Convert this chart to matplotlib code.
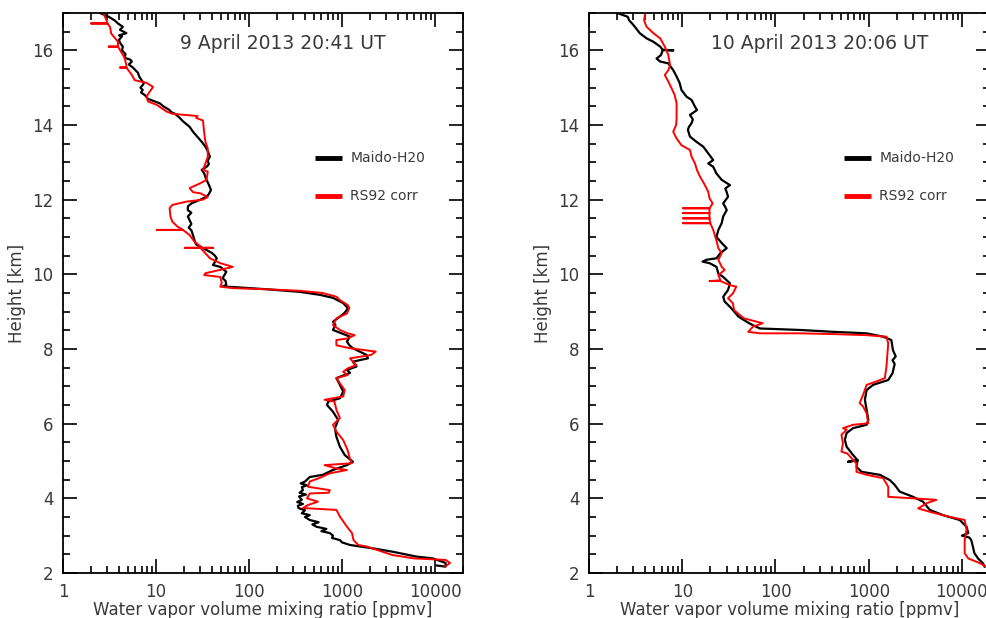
import matplotlib
matplotlib.use("Agg")
import matplotlib.pyplot as plt
from matplotlib.ticker import LogLocator, FixedLocator, MultipleLocator, NullFormatter

# 9 April 2013 20:41 UT
apr9_lidar_km = [17.0, 16.9, 16.8, 16.72, 16.63, 16.55, 16.46, 16.4, 16.37, 16.28, 16.2, 16.1, 16.0,
                 15.9, 15.8, 15.75, 15.7, 15.62, 15.53, 15.45, 15.4, 15.3, 15.2, 15.12, 15.07, 15.0,
                 14.94, 14.87, 14.8, 14.7, 14.64, 14.58, 14.5, 14.4, 14.35, 14.3, 14.19, 14.1, 13.95,
                 13.82, 13.68, 13.55, 13.42, 13.3, 13.15, 13.05, 12.95, 12.88, 12.8, 12.7, 12.6, 12.53,
                 12.4, 12.26, 12.15, 12.08, 12.0, 11.9, 11.82, 11.72, 11.65, 11.55, 11.45, 11.35, 11.25,
                 11.18, 11.05, 10.9, 10.8, 10.74, 10.65, 10.57, 10.5, 10.43, 10.33, 10.25, 10.2, 10.07,
                 10.0, 9.9, 9.82, 9.72, 9.67, 9.66, 9.6, 9.53, 9.45, 9.37, 9.23, 9.1, 9.05, 8.95, 8.87,
                 8.73, 8.65, 8.51, 8.33, 8.2, 8.1, 8.02, 7.84, 7.75, 7.66, 7.53, 7.44, 7.36, 7.22, 7.04,
                 6.86, 6.68, 6.59, 6.5, 6.32, 6.1, 5.88, 5.65, 5.38, 5.16, 4.98, 4.89, 4.76, 4.63, 4.57,
                 4.5, 4.45, 4.4, 4.35, 4.3, 4.22, 4.15, 4.1, 4.05, 3.96, 3.9, 3.85, 3.8, 3.74, 3.68, 3.6,
                 3.55, 3.5, 3.42, 3.36, 3.3, 3.24, 3.18, 3.12, 3.07, 3.0, 2.94, 2.88, 2.82, 2.75, 2.66,
                 2.57, 2.44, 2.39, 2.3, 2.27, 2.17, 2.2]
apr9_lidar_ppmv = [2.5, 3.1, 3.6, 3.9, 4.4, 4.1, 4.8, 4.0, 4.3, 4.0, 4.1, 4.4, 4.3,
                   4.7, 4.6, 5.3, 5.5, 5.1, 5.7, 6.1, 6.4, 6.6, 7.0, 7.4, 7.2, 6.8,
                   7.2, 6.9, 7.6, 8.2, 9.5, 11, 12, 14, 14.5, 16, 18, 19.5, 23,
                   25, 28, 31, 34, 36, 38, 36, 37, 35, 31, 33, 34, 35,
                   37, 39, 37, 35, 30, 24, 22, 22, 24, 22, 23, 24, 22.5,
                   24, 25, 26, 27, 30, 35, 40, 43, 45, 43, 41, 49, 57,
                   55, 52, 56, 57, 52, 67, 155, 353, 580, 800, 1030, 1150, 1130, 1050, 950,
                   800, 850, 800, 1220, 1130, 1200, 1310, 1840, 1900, 1310, 1430, 1130, 1220, 870, 950,
                   1030, 950, 710, 690, 800, 910, 840, 870, 950, 1070, 1310, 1130, 800, 620, 450,
                   420, 400, 360, 420, 370, 380, 350, 410, 345, 370, 330, 380, 335, 340, 400, 370,
                   450, 400, 450, 560, 480, 530, 680, 600, 740, 800, 780, 950, 1000, 1220, 2150,
                   3500, 6300, 9500, 12000, 13000, 13000, 10500]

apr9_rs92_km = [17.0, 16.8, 16.72, 16.72, 16.72, 16.63, 16.45, 16.23, 16.1, 16.1, 16.1, 15.92, 15.8,
                15.6, 15.54, 15.54, 15.54, 15.34, 15.2, 15.13, 15.02, 14.9, 14.76, 14.63, 14.54, 14.36,
                14.3, 14.24, 14.19, 14.12, 13.78, 13.55, 13.37, 13.14, 12.97, 12.8, 12.75, 12.53, 12.44,
                12.31, 12.2, 12.17, 12.07, 12.0, 11.95, 11.86, 11.77, 11.55, 11.41, 11.28, 11.19, 11.19,
                11.19, 11.05, 10.87, 10.75, 10.71, 10.71, 10.71, 10.71, 10.6, 10.43, 10.3, 10.2, 10.12,
                10.03, 9.98, 9.93, 9.77, 9.67, 9.63, 9.6, 9.56, 9.5, 9.4, 9.31, 9.18, 9.1, 8.95, 8.82,
                8.64, 8.51, 8.42, 8.37, 8.28, 8.24, 8.1, 8.02, 7.97, 7.93, 7.84, 7.75, 7.66, 7.57, 7.48,
                7.39, 7.3, 7.22, 7.08, 6.9, 6.73, 6.64, 6.59, 6.37, 6.15, 5.97, 5.79, 5.56, 5.29, 5.11,
                4.94, 4.89, 4.8, 4.76, 4.67, 4.55, 4.45, 4.31, 4.22, 4.15, 4.13, 4.0, 3.91, 3.82, 3.74,
                3.69, 3.51, 3.24, 3.07, 2.88, 2.75, 2.71, 2.48, 2.39, 2.37, 2.35, 2.27, 2.18]
apr9_rs92_ppmv = [2.7, 2.95, 3.0, 2.0, 3.0, 3.2, 3.3, 3.9, 3.9, 3.1, 3.9, 4.3, 4.6,
                  4.8, 4.8, 4.1, 4.8, 5.5, 5.9, 7.9, 9.3, 8.6, 7.9, 8.2, 10.2, 13,
                  15, 28, 27, 32, 33, 34, 36, 36, 34, 32, 36, 35, 30,
                  23, 25, 30, 36, 32, 21.5, 15, 14, 14.3, 15, 17, 19.5, 10.2,
                  19.5, 23, 26, 30, 30, 20.5, 41, 30, 33, 38, 49, 67, 49,
                  34, 33, 49, 51, 49, 67, 155, 350, 620, 870, 950, 1150, 1200, 1130, 870,
                  800, 950, 1150, 1370, 1130, 870, 870, 1220, 1760, 2300, 2050, 1220, 1310, 1430, 1150,
                  1030, 1150, 870, 950, 1070, 1030, 650, 830, 870, 950, 800, 870, 1030, 1150, 1200,
                  1280, 650, 870, 1130, 740, 580, 450, 430, 740, 720, 450, 420, 550, 430, 380,
                  870, 950, 1130, 1280, 1330, 1500, 1840, 3500, 6000, 8800, 13000, 14500, 13000]

# 10 April 2013 20:06 UT
apr10_lidar_km = [17.0, 16.9, 16.8, 16.72, 16.59, 16.46, 16.32, 16.23, 16.1, 16.01, 16.0, 16.01, 15.87,
                  15.78, 15.7, 15.65, 15.47, 15.3, 15.12, 14.94, 14.76, 14.67, 14.49, 14.4, 14.27, 14.15,
                  14.05, 13.95, 13.87, 13.69, 13.55, 13.42, 13.24, 13.06, 12.97, 12.88, 12.7, 12.53, 12.39,
                  12.3, 12.2, 12.08, 11.9, 11.8, 11.72, 11.55, 11.37, 11.19, 11.0, 10.84, 10.7, 10.57,
                  10.43, 10.39, 10.34, 10.3, 10.2, 10.02, 9.93, 9.76, 9.58, 9.4, 9.27, 9.13, 9.04, 8.87,
                  8.73, 8.64, 8.55, 8.51, 8.46, 8.42, 8.33, 8.24, 7.97, 7.8, 7.7, 7.6, 7.35, 7.17, 7.04,
                  6.9, 6.64, 6.37, 6.1, 5.97, 5.88, 5.75, 5.57, 5.38, 5.16, 5.02, 4.98, 5.02, 4.84, 4.71,
                  4.63, 4.49, 4.36, 4.18, 4.04, 3.91, 3.69, 3.55, 3.42, 3.24, 3.07, 3.0, 2.95, 2.88, 2.71,
                  2.53, 2.39, 2.26, 2.17]
apr10_lidar_ppmv = [2.0, 2.6, 2.7, 2.9, 3.2, 3.5, 4.15, 4.9, 5.8, 6.2, 8.0, 6.2, 5.9,
                    5.3, 5.8, 7.1, 8.0, 8.7, 9.4, 9.8, 11.1, 12.6, 13.7, 14.4, 12.1, 13.0,
                    12.6, 11.8, 11.5, 12.1, 14.2, 16.8, 19, 21.5, 19, 21.5, 23.3, 26.5, 32.5,
                    29, 30, 31, 27.5, 29, 30, 27.5, 26.5, 24.4, 23.3, 26.5, 30, 25.7,
                    23.3, 18.2, 16.5, 19.6, 23.3, 24.4, 27.5, 32.5, 31, 27.5, 28.5, 32.5, 35, 40,
                    49, 57, 68, 182, 414, 946, 1430, 1750, 1820, 1950, 1800, 1900, 1800, 1620, 1115,
                    950, 910, 950, 990, 950, 680, 580, 555, 580, 680, 760, 600, 760, 740, 840,
                    1315, 1680, 1900, 2150, 2990, 3830, 4520, 6270, 9460, 11200, 11700, 10000, 12000, 12600, 13100,
                    13600, 14900, 16800, 17500]

apr10_rs92_km = [17.0, 16.8, 16.63, 16.46, 16.32, 16.1, 15.87, 15.6, 15.47, 15.34, 15.16, 14.98, 14.8,
                 14.58, 14.19, 14.0, 13.82, 13.64, 13.46, 13.33, 13.15, 12.97, 12.79, 12.62, 12.39, 12.21,
                 12.04, 11.9, 11.77, 11.77, 11.77, 11.64, 11.64, 11.64, 11.5, 11.5, 11.5, 11.37, 11.37,
                 11.37, 11.19, 10.9, 10.7, 10.57, 10.39, 10.2, 10.12, 9.98, 9.84, 9.82, 9.82, 9.71, 9.67,
                 9.49, 9.36, 9.22, 9.04, 8.91, 8.82, 8.69, 8.6, 8.46, 8.42, 8.42, 8.4, 8.37, 8.33, 8.15,
                 7.53, 7.22, 7.13, 7.04, 6.77, 6.55, 6.46, 6.28, 6.01, 5.97, 5.88, 5.84, 5.7, 5.48, 5.25,
                 5.2, 4.93, 4.71, 4.63, 4.54, 4.31, 4.04, 4.0, 3.96, 3.87, 3.73, 3.64, 3.51, 3.42, 3.16,
                 2.88, 2.53, 2.39, 2.26, 2.19]
apr10_rs92_ppmv = [4.0, 3.9, 4.15, 4.9, 5.8, 6.5, 7.1, 7.4, 7.1, 6.5, 7.1, 7.7, 8.3,
                   8.7, 8.7, 8.6, 8.0, 8.7, 9.8, 12.1, 12.6, 13.7, 14.4, 15.5, 17.5, 19,
                   19.6, 21.2, 19.6, 10.2, 19.6, 19.6, 10.2, 19.6, 19.6, 10.2, 19.6, 20, 10.2,
                   20, 21.5, 23.3, 24.4, 26.5, 24.4, 26.5, 28.5, 24.4, 25.7, 19.6, 25.7, 32.5, 38,
                   35, 31, 35, 36, 41.5, 46, 73, 57.5, 51, 68, 182, 414, 946, 1550, 1620,
                   1550, 1490, 1210, 950, 870, 800, 870, 950, 990, 680, 530, 580, 510, 530, 510,
                   590, 740, 740, 950, 1430, 1620, 1620, 2990, 5330, 4200, 3390, 4520, 7200, 10700, 11200,
                   10700, 10700, 11700, 15700, 17500]

panels = [
    ("9 April 2013 20:41 UT", apr9_lidar_ppmv, apr9_lidar_km, apr9_rs92_ppmv, apr9_rs92_km),
    ("10 April 2013 20:06 UT", apr10_lidar_ppmv, apr10_lidar_km, apr10_rs92_ppmv, apr10_rs92_km),
]
series_names = ["Maido-H20", "RS92 corr"]
x_ticks = [1, 10, 100, 1000, 10000]
x_ticklabels = ["1", "10", "100", "1000", "10000"]
y_ticks = [2, 4, 6, 8, 10, 12, 14, 16]

txt = "#3a3a3a"

fig = plt.figure(figsize=(9.87, 6.18), dpi=100)
rects = [[63 / 987, 45 / 618, 400 / 987, 560 / 618],
         [589 / 987, 45 / 618, 401 / 987, 560 / 618]]
title_x = [0.55, 0.575]
leg_x = [0.63, 0.636]

for i, (title, bx, by, rx, ry) in enumerate(panels):
    ax = fig.add_axes(rects[i])
    ax.plot(bx, by, color="black", lw=1.6)
    ax.plot(rx, ry, color="red", lw=1.4)
    ax.set_xscale("log")
    ax.set_xlim(1, 20000)
    ax.set_ylim(2, 17)

    ax.xaxis.set_major_locator(FixedLocator(x_ticks))
    ax.set_xticklabels(x_ticklabels)
    ax.xaxis.set_minor_locator(LogLocator(base=10, subs=range(2, 10), numticks=20))
    ax.xaxis.set_minor_formatter(NullFormatter())
    ax.yaxis.set_major_locator(FixedLocator(y_ticks))
    ax.yaxis.set_minor_locator(MultipleLocator(0.5))
    ax.tick_params(which="both", direction="in", top=True, right=True, width=1.2,
                   labelsize=12, labelcolor=txt, pad=7)
    ax.tick_params(which="major", length=10)
    ax.tick_params(which="minor", length=5)
    for s in ax.spines.values():
        s.set_linewidth(1.3)

    ax.set_xlabel("Water vapor volume mixing ratio [ppmv]", fontsize=12, color=txt, labelpad=0)
    ax.set_ylabel("Height [km]", fontsize=12, color=txt, labelpad=4)
    ax.text(title_x[i], 0.946, title, transform=ax.transAxes, ha="center", va="center",
            fontsize=13.5, color=txt)

    # legend drawn as in the original (short thick segments + labels)
    for j, (name, col) in enumerate(zip(series_names, ["black", "red"])):
        yy = [0.741, 0.673][j]
        ax.plot([leg_x[i], leg_x[i] + 0.068], [yy, yy], transform=ax.transAxes,
                color=col, lw=3.5, solid_capstyle="butt")
        ax.text(leg_x[i] + 0.088, yy, name, transform=ax.transAxes, va="center",
                fontsize=10, color=txt)

fig.savefig("out.png", dpi=100)
